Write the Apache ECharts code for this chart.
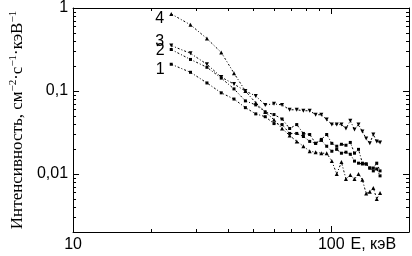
<!DOCTYPE html>
<html lang="ru">
<head>
<meta charset="UTF-8">
<title>Интенсивность</title>
<script src="https://cdn.jsdelivr.net/npm/echarts@6/dist/echarts.min.js"></script>
<style>
  html, body { margin: 0; padding: 0; background: #fff; }
  #chart { width: 412px; height: 256px; }
</style>
</head>
<body>
<div id="chart"></div>
<script>
// energy grid, keV
var energy = [24, 28.5, 33, 37.5, 42, 46.5, 51, 55.5, 60, 64.5, 69, 73.5, 78, 82.5, 87,
              91.5, 96, 100.5, 105, 109.5, 114, 118.5, 123, 127.5, 132, 136.5, 141, 145.5, 150, 154.5];

// intensities, cm^-2 s^-1 keV^-1
var series1 = [0.210, 0.168, 0.125, 0.095, 0.080, 0.063, 0.053, 0.049, 0.0405, 0.0394,
               0.0308, 0.0308, 0.0283, 0.0247, 0.0234, 0.0254, 0.0216, 0.0188, 0.0198, 0.0178,
               0.0183, 0.0173, 0.0143, 0.0135, 0.0132, 0.0132, 0.0118, 0.0109, 0.0115, 0.0095];
var series2 = [0.316, 0.240, 0.193, 0.143, 0.106, 0.076, 0.068, 0.056, 0.052, 0.046,
               0.0353, 0.0394, 0.0308, 0.0299, 0.0234, 0.0261, 0.0299, 0.0234, 0.0216, 0.0228,
               0.0222, 0.0240, 0.0178, 0.0198, 0.0135, 0.0132, 0.0118, 0.0118, 0.0135, 0.0109];
var series3 = [0.353, 0.284, 0.210, 0.147, 0.121, 0.100, 0.087, 0.068, 0.070, 0.068,
               0.0594, 0.0594, 0.0578, 0.0578, 0.0518, 0.0518, 0.0452, 0.0394, 0.0394, 0.0394,
               0.0353, 0.0439, 0.0343, 0.0394, 0.0325, 0.0268, 0.0234, 0.0299, 0.0247, 0.0240];
var series4 = [0.848, 0.627, 0.428, 0.291, 0.164, 0.100, 0.072, 0.056, 0.045, 0.0353,
               0.0291, 0.0247, 0.0216, 0.0188, 0.0183, 0.0178, 0.0178, 0.0143, 0.0100, 0.0139,
               0.0087, 0.0097, 0.0087, 0.0100, 0.0085, 0.0058, 0.0061, 0.0068, 0.0050, 0.0059];

var seriesNames = ['1', '2', '3', '4'];
var xMinorTicks = [20, 30, 40, 50, 60, 70, 80, 90];
var yMinorTicks = [0.003, 0.004, 0.005, 0.006, 0.007, 0.008, 0.009,
                   0.02, 0.03, 0.04, 0.05, 0.06, 0.07, 0.08, 0.09,
                   0.2, 0.3, 0.4, 0.5, 0.6, 0.7, 0.8, 0.9];

var X_MIN = 10, X_MAX = 200, Y_MIN = 0.002, Y_MAX = 1;
var sansFont = 'Liberation Sans';
var lg = Math.log10;

function isMajor(v) {
    var l = lg(v);
    return Math.abs(l - Math.round(l)) < 1e-6;
}

function fmt(v) {
    return isMajor(v) ? String(+v.toPrecision(6)).replace('.', ',') : '';
}

// log axis carrying the data (major ticks only)
function logAxis(pos, min, max, withLabels) {
    return {
        type: 'log', logBase: 10, position: pos, min: min, max: max,
        splitLine: { show: false },
        axisLine: { show: true, onZero: false, lineStyle: { color: '#000', width: 1 } },
        axisTick: { show: true, inside: true, length: 6, lineStyle: { color: '#000' } },
        axisLabel: {
            show: withLabels, color: '#000', fontFamily: sansFont, fontSize: 16,
            margin: 5, formatter: fmt
        }
    };
}

// helper axis in log10 units, only for the small ticks at 2..9
function minorAxis(pos, min, max, ticks) {
    var vals = ticks.map(lg);
    return {
        type: 'value', position: pos, min: lg(min), max: lg(max),
        splitLine: { show: false },
        axisLine: { show: false, onZero: false },
        axisLabel: { show: false },
        axisTick: { show: true, inside: true, length: 3, customValues: vals,
                    lineStyle: { color: '#000' } }
    };
}

var symbols = ['rect', 'rect', 'triangle', 'triangle'];
var symbolRotates = [0, 0, 180, 0];
var labelOffsets = [[0, 5], [0, 1], [0, -4], [0, 5]];
var allSeries = [series1, series2, series3, series4];

var series = allSeries.map(function (vals, k) {
    return {
        name: seriesNames[k],
        type: 'line',
        xAxisIndex: 0, yAxisIndex: 0,
        symbol: symbols[k],
        symbolRotate: symbolRotates[k],
        symbolSize: k >= 2 ? 4 : 3,
        showAllSymbol: true,
        itemStyle: { color: '#000' },
        lineStyle: { color: '#000', width: 1, type: [2, 2, 1, 2] },
        label: { show: false },
        data: energy.map(function (e, i) {
            if (i === 0) {
                return {
                    value: [e, vals[i]],
                    label: {
                        show: true, position: 'left', distance: 5, offset: labelOffsets[k],
                        formatter: seriesNames[k], color: '#000',
                        fontFamily: sansFont, fontSize: 16
                    }
                };
            }
            return [e, vals[i]];
        })
    };
});

var chart = echarts.init(document.getElementById('chart'));
chart.setOption({
    animation: false,
    backgroundColor: '#fff',
    grid: { left: 60, right: 1, top: 5, bottom: 24 },
    xAxis: [
        Object.assign(logAxis('bottom', X_MIN, X_MAX, true), {
            name: 'E, кэВ', nameLocation: 'end', nameGap: -13,
            nameTextStyle: { color: '#000', fontFamily: sansFont, fontSize: 16,
                             align: 'right', verticalAlign: 'top', padding: [5, 0, 0, 0] }
        }),
        minorAxis('bottom', X_MIN, X_MAX, xMinorTicks),
        logAxis('top', X_MIN, X_MAX, false),
        minorAxis('top', X_MIN, X_MAX, xMinorTicks)
    ],
    yAxis: [
        Object.assign(logAxis('left', Y_MIN, Y_MAX, true), {
            name: '{a|Интенсивность, см}{s|−2}{a|·с}{s|−1}{a|·кэВ}{s|−1}',
            nameLocation: 'middle', nameRotate: 90, nameGap: 42,
            nameTextStyle: {
                color: '#000',
                rich: {
                    a: { fontFamily: 'Liberation Serif', fontSize: 17, color: '#000', lineHeight: 19 },
                    s: { fontFamily: 'Liberation Serif', fontSize: 11, color: '#000', verticalAlign: 'top', lineHeight: 19 }
                }
            }
        }),
        minorAxis('left', Y_MIN, Y_MAX, yMinorTicks),
        logAxis('right', Y_MIN, Y_MAX, false),
        minorAxis('right', Y_MIN, Y_MAX, yMinorTicks)
    ],
    series: series
});
</script>
</body>
</html>
